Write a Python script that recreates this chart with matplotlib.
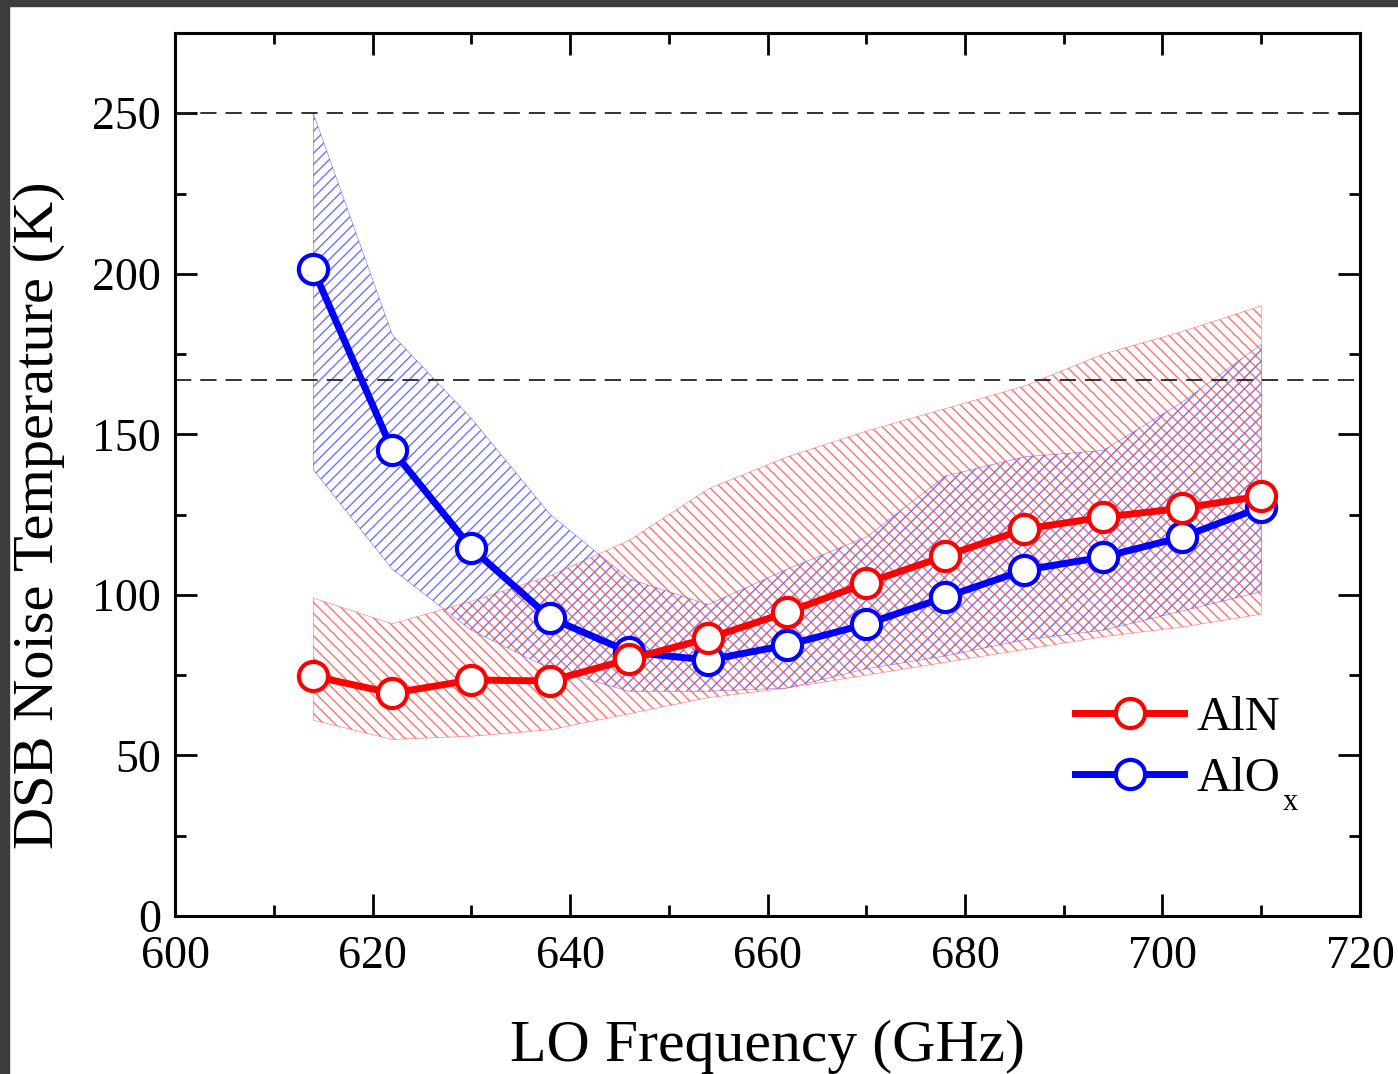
import numpy as np
import matplotlib
matplotlib.use("Agg")
import matplotlib.pyplot as plt
from matplotlib.patches import Rectangle
from matplotlib.ticker import MultipleLocator

plt.rcParams['font.family'] = ['Liberation Serif', 'DejaVu Serif']
plt.rcParams['hatch.linewidth'] = 1.0

# LO frequency points (GHz)
freq = [614, 622, 630, 638, 646, 654, 662, 670, 678, 686, 694, 702, 710]

# mean DSB noise temperature (K)
aln = [74.7, 69.4, 73.5, 73.2, 80.0, 86.5, 94.6, 103.7, 112.1, 120.5, 124.2, 127.0, 130.8]
alox = [201.4, 145.1, 114.6, 92.8, 82.2, 79.7, 84.4, 90.9, 99.3, 107.7, 111.8, 118.0, 127.3]

# spread (shaded bands)
aln_hi = [99, 91, 98, 106, 117, 133, 143, 151, 158, 165, 175, 182, 190]
aln_lo = [61, 55, 56, 58, 63, 68, 71, 75, 79, 83, 87, 90, 94]
alox_hi = [250, 181, 155, 125, 105, 97, 108, 118, 137, 143, 145, 160, 178]
alox_lo = [139, 108, 89, 77, 70, 70, 71, 77, 81, 86, 89, 95, 101]

# reference levels
ref_lines = [250, 167]

fig = plt.figure(figsize=(13.98, 10.74), dpi=100)
ax = fig.add_axes([0.1252, 0.1471, 0.8476, 0.8222])

# hatched bands
ax.fill_between(freq, alox_lo, alox_hi, facecolor='none', edgecolor=(0.3, 0.3, 1.0, 0.8),
                hatch='///', linewidth=0.4, zorder=1)
ax.fill_between(freq, aln_lo, aln_hi, facecolor='none', edgecolor=(1.0, 0.3, 0.3, 0.8),
                hatch='\\\\\\', linewidth=0.4, zorder=1)

for yv in ref_lines:
    ax.axhline(yv, color='#222222', lw=1.3, ls=(0, (9, 5)), zorder=2)

ax.plot(freq, aln, color='#ff0000', lw=5, marker='o', ms=21, mfc='white',
        mec='#ff0000', mew=3, label='AlN', zorder=4)
ax.plot(freq, alox, color='#0000ff', lw=5, marker='o', ms=21, mfc='white',
        mec='#0000ff', mew=3, label='AlO', zorder=3)

ax.set_xlim(600, 720)
ax.set_ylim(0, 275)
ax.xaxis.set_major_locator(MultipleLocator(20))
ax.xaxis.set_minor_locator(MultipleLocator(10))
ax.yaxis.set_minor_locator(MultipleLocator(25))
ax.set_yticks([0, 50, 100, 150, 200, 250])

ax.tick_params(which='both', direction='in', top=True, right=True, width=2)
ax.tick_params(which='major', length=16, labelsize=33)
ax.tick_params(axis='x', which='major', pad=14)
ax.tick_params(axis='y', which='major', pad=10)
ax.tick_params(which='minor', length=8)
for s in ax.spines.values():
    s.set_linewidth(2.2)

ax.set_xlabel('LO Frequency (GHz)', fontsize=43, labelpad=30)
ax.set_ylabel('DSB Noise Temperature (K)', fontsize=42)
ax.yaxis.set_label_coords(-0.093, 0.454)

leg = ax.legend(loc='center left', bbox_to_anchor=(0.7595, 0.190), frameon=False, fontsize=35,
                handlelength=2.25, handletextpad=0.25, labelspacing=0.35, borderpad=0.0,
                borderaxespad=0.0)

# subscript x of AlO_x, set well below the baseline as in the original
fig.canvas.draw()
bb = leg.get_texts()[1].get_window_extent()
fig.text(bb.x1 + 2, bb.y0 - 16, 'x', fontsize=22, ha='left', va='bottom',
         transform=None)

# dark frame at top and left of the original screenshot
fig.patches.append(Rectangle((0, 0), 9 / 1398, 1, transform=fig.transFigure,
                             color='#3c3c3c', zorder=10))
fig.patches.append(Rectangle((0, 1 - 6 / 1074), 1, 6 / 1074, transform=fig.transFigure,
                             color='#3c3c3c', zorder=10))

fig.savefig('out.png', dpi=100)
